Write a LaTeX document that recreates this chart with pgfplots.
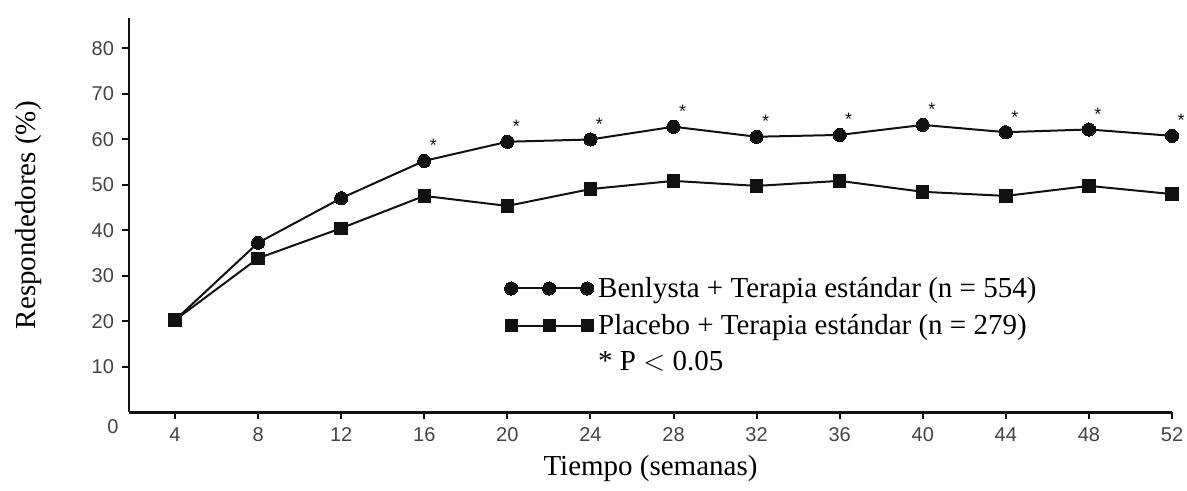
\documentclass[border=0pt]{standalone}
\usepackage{pgfplots}
\pgfplotsset{compat=1.18}
\usepackage{fontspec}
\setmainfont{Liberation Serif}
\newfontfamily\arial{Liberation Sans}
\definecolor{tickgray}{HTML}{444444}
\definecolor{ink}{HTML}{111111}

\pgfplotstableread{
wk  benlysta placebo
4   20.3  20.3
8   37.3  33.9
12  47.1  40.5
16  55.3  47.6
20  59.5  45.4
24  60.0  49.1
28  62.8  50.9
32  60.6  49.8
36  61.0  50.9
40  63.2  48.5
44  61.6  47.6
48  62.2  49.8
52  60.8  48.0
}\datatable

\begin{document}
\begin{tikzpicture}
\begin{axis}[
    name=ax,
    scale only axis,
    width=521.5pt, height=197.25pt,
    xmin=1.785, xmax=52,
    ymin=0, ymax=86.7,
    axis x line*=bottom, axis y line*=left,
    axis line style={-, line width=1.2pt, ink},
    xtick={4,8,...,52},
    ytick={10,20,...,80},
    tick align=outside,
    major tick length=3.5pt,
    tick style={line width=1pt, ink},
    tick label style={font=\arial\fontsize{10}{11}\selectfont, tickgray},
    /pgf/number format/assume math mode=true,
    xticklabel style={yshift=-0.5pt},
    yticklabel style={xshift=-0.5pt},
    xlabel={Tiempo (semanas)},
    ylabel={Respondedores (\%)},
    label style={font=\fontsize{14.5}{16}\selectfont, black},
    xlabel style={at={(axis description cs:0.5,-0.141)}, anchor=center},
    ylabel style={at={(axis description cs:-0.0968,0.5)}, anchor=center},
    legend style={draw=none, fill=none,
        at={(axis description cs:0.354,0.365)}, anchor=north west,
        font=\fontsize{14.5}{16}\selectfont,
        row sep=3pt},
    legend cell align=left,
    legend image code/.code={
        \draw[#1] plot coordinates {(0pt,0pt) (19pt,0pt) (38pt,0pt)};
        \path (38pt,0pt) -- (41pt,0pt);
    },
]
\addplot[ink, line width=1pt, mark=*, mark size=3.3pt,
    mark options={fill=ink, draw=ink, line width=0pt}]
    table[x=wk, y=benlysta] {\datatable};
\addlegendentry{Benlysta + Terapia estándar (n = 554)}
\addplot[ink, line width=1pt, mark=square*, mark size=3.1pt,
    mark options={fill=ink, draw=ink, line width=0pt}]
    table[x=wk, y=placebo] {\datatable};
\addlegendentry{Placebo + Terapia estándar (n = 279)}
\addlegendimage{empty legend}
\addlegendentry{* P $<$ 0.05}
% significance markers, weeks 16 to 52
\addplot[draw=none, mark=none, forget plot,
    skip coords between index={0}{3},
    nodes near coords={*},
    every node near coord/.append style={anchor=center, xshift=4.5pt, yshift=7.6pt,
        font=\arial\fontsize{9}{8}\selectfont, ink, inner sep=0pt}]
    table[x=wk, y=benlysta] {\datatable} ;
\end{axis}
\node[font=\arial\fontsize{10}{11}\selectfont, tickgray, anchor=center]
    at ([shift={(-8pt,-7.3pt)}]ax.south west) {0};
\pgfresetboundingbox
\path[use as bounding box] ([shift={(-64.5pt,-39.25pt)}]ax.south west)
    rectangle ([shift={(529pt,206.25pt)}]ax.south west);
\end{tikzpicture}
\end{document}
